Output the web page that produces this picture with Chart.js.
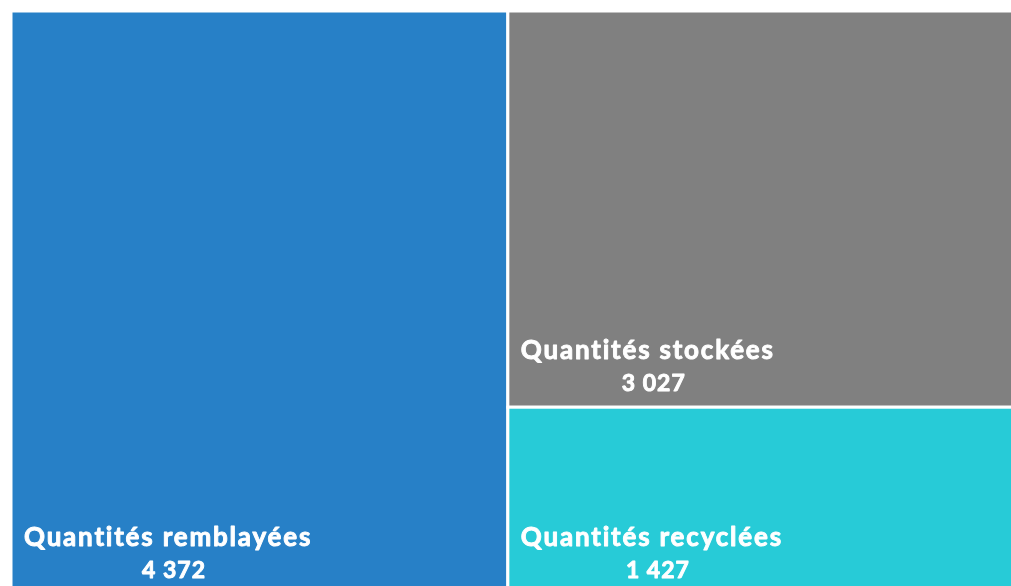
<!DOCTYPE html>
<html>
<head>
<meta charset="utf-8">
<script src="https://cdn.jsdelivr.net/npm/chart.js@4"></script>
<style>
    html, body { margin: 0; padding: 0; background: #fff; overflow: hidden; }
    #wrap { width: 1014px; height: 594px; position: relative; }
</style>
</head>
<body>
<div id="wrap"><canvas id="treemap"></canvas></div>
<script>
// quantities (treemap cells)
const labels = ["Quantités remblayées", "Quantités stockées", "Quantités recyclées"];
const values = [4372, 3027, 1427];
const valueLabels = ["4 372", "3 027", "1 427"];
const colors = ["#2780c7", "#808080", "#27cbd7"];

// slice-and-dice layout: first cell takes a full-height column,
// the others share the second column, stacked top to bottom
function layoutCells() {
    const total = values.reduce((a, b) => a + b, 0);
    const restTotal = total - values[0];
    const cells = [{ x0: 0, x1: values[0], y0: 0, y1: 1, i: 0 }];
    let top = 1;
    for (let i = 1; i < values.length; i++) {
        const h = values[i] / restTotal;
        cells.push({ x0: values[0], x1: total, y0: top - h, y1: top, i });
        top -= h;
    }
    return { total, cells };
}

const layout = layoutCells();

const treemapPlugin = {
    id: "treemapCells",
    afterDatasetsDraw(chart) {
        const ctx = chart.ctx;
        const xs = chart.scales.x, ys = chart.scales.y;
        ctx.save();
        layout.cells.forEach(c => {
            const left = xs.getPixelForValue(c.x0);
            const right = xs.getPixelForValue(c.x1);
            const top = ys.getPixelForValue(c.y1);
            const bottom = ys.getPixelForValue(c.y0);
            ctx.fillStyle = colors[c.i];
            ctx.fillRect(left, top, right - left, bottom - top);
            ctx.strokeStyle = "#ffffff";
            ctx.lineWidth = 3;
            ctx.strokeRect(left, top, right - left, bottom - top);
        });
        layout.cells.forEach(c => {
            const left = xs.getPixelForValue(c.x0);
            const bottom = ys.getPixelForValue(c.y0);
            ctx.fillStyle = "#ffffff";
            ctx.strokeStyle = "#ffffff";
            ctx.lineWidth = 0.9;
            ctx.lineJoin = "round";
            ctx.textBaseline = "alphabetic";
            ctx.font = "bold 26px Lato";
            ctx.letterSpacing = "1.8px";
            ctx.textAlign = "left";
            const tx = left + 13;
            ctx.fillText(labels[c.i], tx, bottom - 48);
            ctx.strokeText(labels[c.i], tx, bottom - 48);
            const w = ctx.measureText(labels[c.i]).width;
            ctx.font = "bold 23px Lato";
            ctx.letterSpacing = "1px";
            ctx.textAlign = "center";
            ctx.fillText(valueLabels[c.i], tx + w / 2 + 6, bottom - 16);
            ctx.strokeText(valueLabels[c.i], tx + w / 2 + 6, bottom - 16);
        });
        ctx.restore();
    }
};

new Chart(document.getElementById("treemap"), {
    type: "scatter",
    data: { datasets: [{ data: [], pointRadius: 0 }] },
    options: {
        responsive: true,
        maintainAspectRatio: false,
        animation: false,
        layout: { padding: { left: 11, top: 11, right: 0, bottom: 0 } },
        plugins: { legend: { display: false }, tooltip: { enabled: false } },
        scales: {
            x: { type: "linear", min: 0, max: layout.total, display: false },
            y: { type: "linear", min: 0, max: 1, display: false }
        }
    },
    plugins: [treemapPlugin]
});
</script>
</body>
</html>
